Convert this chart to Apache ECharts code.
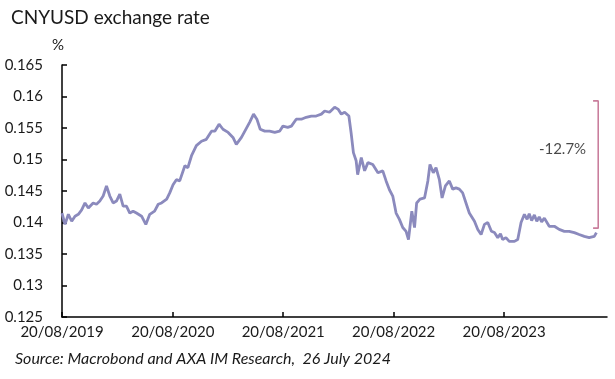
<!DOCTYPE html>
<html>
<head>
<meta charset="utf-8">
<script src="https://cdn.jsdelivr.net/npm/echarts@6/dist/echarts.min.js"></script>
<style>
  html, body { margin: 0; padding: 0; background: #ffffff; }
  #chart { width: 615px; height: 379px; }
</style>
</head>
<body>
<div id="chart"></div>
<script>
// ---- Data ----
const dates = [
  '2019-08-20','2019-08-30','2019-09-10','2019-09-21','2019-10-02','2019-10-13','2019-10-24','2019-11-04','2019-11-15','2019-12-01',
  '2019-12-12','2019-12-23','2020-01-03','2020-01-14','2020-01-25','2020-02-05','2020-02-16','2020-02-27','2020-03-09','2020-03-20',
  '2020-03-31','2020-04-11','2020-04-22','2020-05-09','2020-05-23','2020-06-05','2020-06-21','2020-07-03','2020-07-14','2020-07-31',
  '2020-08-10','2020-08-21','2020-09-01','2020-09-12','2020-09-29','2020-10-09','2020-10-21','2020-11-06','2020-11-23','2020-12-09',
  '2020-12-26','2021-01-06','2021-01-20','2021-02-02','2021-02-19','2021-03-07','2021-03-18','2021-04-04','2021-04-22','2021-05-01',
  '2021-05-14','2021-05-25','2021-06-05','2021-06-20','2021-07-06','2021-07-23','2021-08-08','2021-08-19','2021-09-04','2021-09-16',
  '2021-10-02','2021-10-19','2021-11-04','2021-11-21','2021-12-07','2021-12-24','2022-01-04','2022-01-20','2022-02-06','2022-02-17',
  '2022-02-28','2022-03-11','2022-03-25','2022-04-02','2022-04-09','2022-04-18','2022-04-23','2022-05-05','2022-05-16','2022-05-27',
  '2022-06-12','2022-06-29','2022-07-15','2022-07-26','2022-08-06','2022-08-17','2022-08-28','2022-09-08','2022-09-19','2022-09-30',
  '2022-10-08','2022-10-19','2022-10-28','2022-11-04','2022-11-15','2022-11-30','2022-12-11','2022-12-18','2022-12-29','2023-01-07',
  '2023-01-18','2023-01-27','2023-02-07','2023-02-20','2023-03-03','2023-03-14','2023-03-25','2023-04-05','2023-04-16','2023-04-27',
  '2023-05-14','2023-05-25','2023-06-05','2023-06-16','2023-06-27','2023-07-09','2023-07-19','2023-07-30','2023-08-08','2023-08-15',
  '2023-08-26','2023-09-06','2023-09-23','2023-10-04','2023-10-15','2023-10-26','2023-11-04','2023-11-11','2023-11-19','2023-11-28',
  '2023-12-06','2023-12-14','2023-12-22','2023-12-31','2024-01-16','2024-02-02','2024-02-18','2024-03-06','2024-03-22','2024-04-08',
  '2024-04-24','2024-05-11','2024-05-27','2024-06-13','2024-06-20'
];
const cnyusd = [
  0.1415,0.1397,0.1413,0.1402,0.1410,0.1413,0.1420,0.1431,0.1423,0.1431,
  0.1429,0.1434,0.1442,0.1458,0.1442,0.1431,0.1434,0.1445,0.1426,0.1426,
  0.1415,0.1418,0.1415,0.1410,0.1397,0.1413,0.1418,0.1429,0.1431,0.1437,
  0.1447,0.1460,0.1468,0.1466,0.1490,0.1487,0.1506,0.1522,0.1529,0.1532,
  0.1545,0.1545,0.1556,0.1548,0.1543,0.1535,0.1524,0.1535,0.1551,0.1559,
  0.1572,0.1564,0.1548,0.1545,0.1545,0.1543,0.1545,0.1553,0.1551,0.1553,
  0.1564,0.1564,0.1567,0.1569,0.1569,0.1572,0.1577,0.1575,0.1583,0.1580,
  0.1572,0.1575,0.1569,0.1540,0.1511,0.1498,0.1476,0.1503,0.1482,0.1495,
  0.1492,0.1479,0.1482,0.1466,0.1452,0.1442,0.1415,0.1405,0.1392,0.1386,
  0.1373,0.1418,0.1392,0.1431,0.1437,0.1439,0.1466,0.1492,0.1479,0.1487,
  0.1468,0.1439,0.1458,0.1466,0.1453,0.1455,0.1453,0.1447,0.1431,0.1415,
  0.1402,0.1389,0.1381,0.1397,0.1400,0.1386,0.1384,0.1376,0.1382,0.1373,
  0.1376,0.1370,0.1370,0.1373,0.1400,0.1413,0.1405,0.1414,0.1403,0.1412,
  0.1402,0.1409,0.1401,0.1407,0.1394,0.1394,0.1389,0.1386,0.1386,0.1384,
  0.1381,0.1378,0.1376,0.1378,0.1384
];
const tickDates = ['2019-08-20','2020-08-20','2021-08-20','2022-08-20','2023-08-20'];
const tickLabels = ['20/08/2019','20/08/2020','20/08/2021','20/08/2022','20/08/2023'];
const xMin = '2019-08-20';
const xMax = '2024-07-25';
const yMin = 0.125, yMax = 0.165, yStep = 0.005;
// bracket annotation
const bracketDates = ['2024-06-09', '2024-06-26'];
const bracketValues = [0.1593, 0.1391];
const changeLabelPos = ['2024-02-29', 0.1516];
const changeLabel = '-12.7%';
const titleText = 'CNYUSD exchange rate';
const sourceText = 'Source: Macrobond and AXA IM Research,  26 July 2024';

// ---- Build chart ----
const FONT = 'Lato, "Open Sans", sans-serif';
const toTs = s => { const p = s.split('-').map(Number); return Date.UTC(p[0], p[1] - 1, p[2]); };
const tickTs = tickDates.map(toTs);
const lineData = dates.map((d, i) => [toTs(d), cnyusd[i]]);
const bracketData = [
  [toTs(bracketDates[0]), bracketValues[0]],
  [toTs(bracketDates[1]), bracketValues[0]],
  [toTs(bracketDates[1]), bracketValues[1]],
  [toTs(bracketDates[0]), bracketValues[1]]
];

const chart = echarts.init(document.getElementById('chart'), null, { renderer: 'canvas' });
chart.setOption({
  animation: false,
  backgroundColor: '#ffffff',
  title: [
    { text: titleText, left: 6, top: 3,
      textStyle: { fontFamily: FONT, fontSize: 19, fontWeight: 'normal', color: '#1a1a1a' } },
    { text: sourceText, left: 10, top: 346,
      textStyle: { fontFamily: FONT, fontSize: 16, fontStyle: 'italic', fontWeight: 'normal', color: '#1a1a1a' } }
  ],
  grid: { left: 62, right: 8, top: 65, bottom: 62, containLabel: false },
  xAxis: {
    type: 'value',
    min: toTs(xMin), max: toTs(xMax),
    axisLine: { show: true, onZero: false, lineStyle: { color: '#000', width: 1.5 } },
    axisTick: { show: true, inside: true, length: 5, customValues: tickTs, lineStyle: { color: '#000', width: 1.5 } },
    axisLabel: {
      customValues: tickTs, showMinLabel: true, showMaxLabel: true, hideOverlap: false,
      margin: 8, fontFamily: FONT, fontSize: 15, color: '#1a1a1a',
      formatter: v => { const i = tickTs.indexOf(v); return i >= 0 ? tickLabels[i] : ''; }
    },
    splitLine: { show: false }
  },
  yAxis: {
    type: 'value',
    min: yMin, max: yMax, interval: yStep,
    name: '%', nameLocation: 'end', nameGap: 12,
    nameTextStyle: { fontFamily: FONT, fontSize: 15, color: '#1a1a1a', align: 'center', padding: [0, 8, 0, 0] },
    axisLine: { show: true, lineStyle: { color: '#000', width: 1.5 } },
    axisTick: { show: true, inside: true, length: 5, lineStyle: { color: '#000', width: 1.5 } },
    axisLabel: { margin: 19, fontFamily: FONT, fontSize: 15, color: '#1a1a1a',
      formatter: v => String(+v.toFixed(3)) },
    splitLine: { show: false }
  },
  series: [
    { type: 'line', name: 'CNYUSD', data: lineData, symbol: 'none',
      lineStyle: { color: '#8b8abd', width: 2.8 }, itemStyle: { color: '#8b8abd' } },
    { type: 'line', name: 'bracket', data: bracketData, symbol: 'none',
      lineStyle: { color: '#c97e9c', width: 1.6 }, itemStyle: { color: '#c97e9c' } },
    { type: 'scatter', name: 'change', data: [[toTs(changeLabelPos[0]), changeLabelPos[1]]], symbolSize: 0,
      label: { show: true, position: 'inside', formatter: changeLabel,
        fontFamily: FONT, fontSize: 15, color: '#1a1a1a' } }
  ]
});
</script>
</body>
</html>
